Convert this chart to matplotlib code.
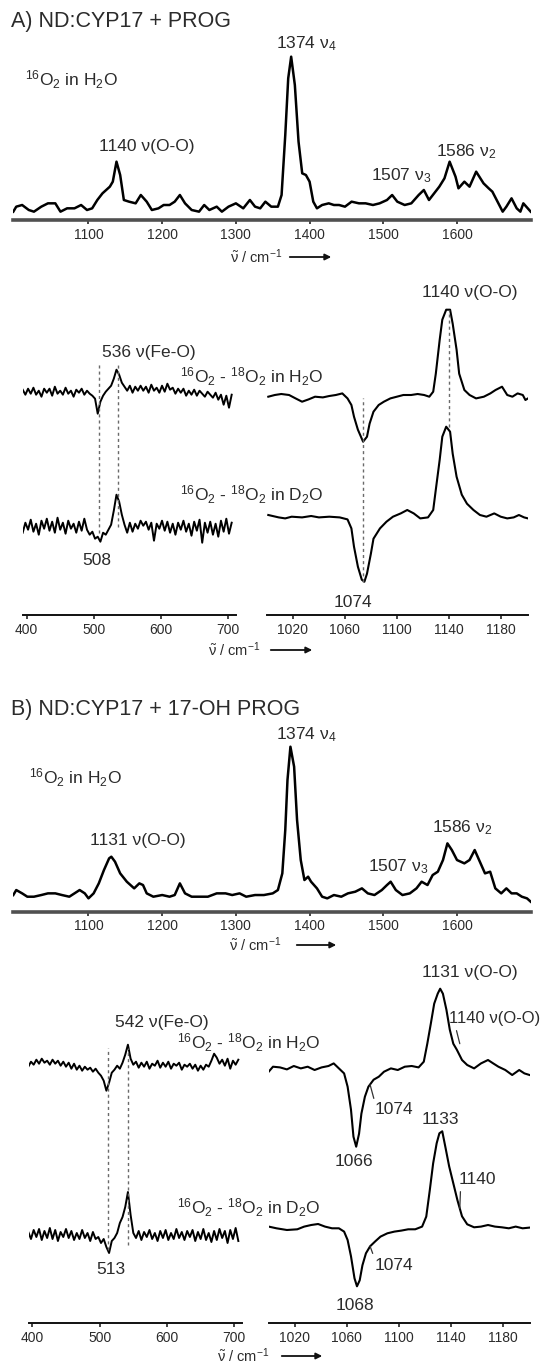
import numpy as np
import matplotlib
matplotlib.use("Agg")
import matplotlib.pyplot as plt
from matplotlib.patches import FancyArrowPatch

# Fonts: Arial-like text, sub/superscripts in the same face
plt.rcParams['font.family'] = ['Liberation Sans', 'DejaVu Sans']
plt.rcParams['mathtext.fontset'] = 'custom'
plt.rcParams['mathtext.rm'] = 'Liberation Sans'
plt.rcParams['mathtext.it'] = 'Liberation Sans:italic'
plt.rcParams['mathtext.default'] = 'regular'

W, H = 544, 1364
TXT = '#2b2b2b'

# ---------------- Section 1: spectra ----------------
# Panel A, 16O2 in H2O, high-frequency window (arbitrary intensity)
wn_a_top = [998, 1002, 1010, 1019, 1026, 1036, 1045, 1055, 1062, 1071,
            1081, 1090, 1098, 1105, 1112, 1119, 1129, 1133, 1138, 1143,
            1148, 1155, 1164, 1171, 1179, 1186, 1195, 1202, 1210, 1217,
            1224, 1231, 1240, 1250, 1257, 1264, 1274, 1281, 1290, 1300,
            1310, 1319, 1326, 1333, 1340, 1348, 1357, 1362, 1367, 1371,
            1375, 1380, 1385, 1390, 1395, 1400, 1405, 1410, 1417, 1426,
            1433, 1440, 1448, 1457, 1467, 1476, 1486, 1495, 1505, 1512,
            1519, 1529, 1538, 1548, 1555, 1562, 1569, 1576, 1583, 1590,
            1598, 1602, 1610, 1617, 1626, 1636, 1643, 1648, 1655, 1662,
            1667, 1674, 1681, 1686, 1690, 1698, 1700]
int_a_top = [5, 8, 9, 6, 5, 8, 10, 10, 5, 7,
             7, 9, 6, 7, 12, 16, 20, 23, 35, 27,
             12, 11, 10, 15, 11, 6, 7, 9, 9, 11,
             15, 10, 6, 5, 9, 6, 8, 5, 8, 10,
             7, 12, 8, 7, 11, 8, 8, 15, 51, 85,
             98, 81, 47, 28, 27, 23, 11, 7, 9, 10,
             9, 9, 8, 11, 10, 10, 9, 10, 12, 15,
             11, 9, 10, 15, 18, 12, 16, 20, 25, 35,
             26, 19, 23, 20, 29, 22, 19, 17, 11, 5,
             8, 13, 7, 5, 10, 6, 5]

# Panel B, 16O2 in H2O, high-frequency window
wn_b_top = [998, 1002, 1010, 1017, 1026, 1036, 1045, 1055, 1064, 1074,
            1081, 1088, 1095, 1100, 1107, 1114, 1121, 1128, 1131, 1136,
            1143, 1152, 1162, 1169, 1174, 1179, 1188, 1200, 1210, 1217,
            1224, 1231, 1240, 1252, 1262, 1274, 1286, 1295, 1305, 1314,
            1326, 1338, 1350, 1357, 1363, 1367, 1370, 1374, 1379, 1383,
            1388, 1393, 1398, 1402, 1410, 1417, 1424, 1433, 1443, 1452,
            1462, 1471, 1479, 1488, 1498, 1505, 1510, 1517, 1526, 1536,
            1545, 1552, 1560, 1567, 1574, 1581, 1587, 1593, 1600, 1610,
            1617, 1624, 1631, 1638, 1645, 1652, 1660, 1667, 1674, 1681,
            1688, 1695, 1700]
int_b_top = [10, 13, 11, 9, 9, 10, 11, 11, 10, 9,
             11, 13, 11, 8, 11, 17, 25, 32, 33, 30,
             23, 18, 14, 17, 16, 11, 9, 10, 9, 10,
             17, 11, 9, 9, 9, 11, 11, 10, 11, 9,
             10, 10, 11, 13, 23, 49, 79, 99, 87, 55,
             31, 19, 21, 18, 14, 9, 8, 10, 9, 11,
             12, 14, 11, 10, 13, 16, 18, 13, 10, 11,
             14, 18, 16, 22, 24, 31, 41, 37, 31, 29,
             31, 37, 30, 23, 24, 14, 11, 14, 11, 11,
             9, 8, 6]

# Difference spectra, low-frequency window (sampled every 4 cm-1)
wn_low = np.arange(394, 707, 4)
diff_a_h2o_low = [2, -3, 3, -2, 4, -3, 1, -5, 3, -1,
                  3, -4, 5, -2, 1, -3, 4, -2, 1, -5,
                  2, -1, 3, -3, 1, -2, -4, -7, -22, -10,
                  -4, 0, 3, 6, 13, 22, 17, 9, 5, 1,
                  6, -1, 5, 1, 6, 1, 5, -1, 7, 1,
                  4, -1, 6, 0, 8, 2, 4, -2, 3, -1,
                  3, -4, 1, -3, 2, -4, 1, -2, -5, 0,
                  -3, -6, -1, -8, -3, -13, -4, -16, -3]
diff_a_d2o_low = [-6, 4, -3, 7, -5, 3, -8, 6, -2, 8,
                  -4, 5, -6, 9, -3, 4, -7, 6, -2, 3,
                  -6, 5, -4, 8, -3, -8, -5, -12, -10, -15,
                  -6, -8, -3, 2, 16, 32, 25, 12, 2, -6,
                  4, -5, 3, -2, 6, 1, 5, -3, 4, -14,
                  3, -2, 6, -4, 5, -6, 3, -8, 4, -3,
                  6, -5, 3, -9, 5, -4, 7, -16, 4, -6,
                  5, -8, 3, -10, 6, -5, 8, -7, 4]
diff_b_h2o_low = [0, 5, 2, 7, 3, 8, 4, 6, 2, 7,
                  3, 6, 1, 5, 0, 4, -2, 3, -3, 1,
                  -4, 0, -3, -1, -5, -2, -6, -9, -14, -24,
                  -16, -6, -3, 1, -2, 4, 12, 22, 8, 2,
                  5, -1, 4, 0, 5, -2, 3, 1, 6, -1,
                  4, 0, 5, -2, 3, 1, 4, -3, 2, 0,
                  3, -2, 2, -4, 1, -3, 2, 0, 6, 13,
                  9, 3, 7, 1, 8, -2, 6, 2, 7]
diff_b_d2o_low = [3, -4, 5, -2, 6, -5, 4, -3, 7, -4,
                  5, -6, 3, -2, 6, -3, 4, -5, 2, -4,
                  5, -3, 2, -6, 3, -4, -2, -8, -4, -12,
                  -18, -6, -3, 2, 12, 18, 28, 43, 20, 2,
                  -3, 4, -5, 3, -2, 5, -4, 2, -6, 4,
                  -3, 5, -5, 2, -4, 6, -3, 3, -5, 4,
                  -2, 5, -6, 3, -4, 6, -5, 2, -7, 4,
                  -5, 6, -3, 4, -8, 5, -4, 7, -6]

# Difference spectra, O-O window, panel A
wn_a_h2o_hi = [1001, 1006, 1011, 1017, 1022, 1027, 1032, 1037, 1043, 1048,
               1053, 1058, 1062, 1065, 1067, 1070, 1074, 1077, 1079, 1082,
               1086, 1090, 1095, 1100, 1105, 1111, 1116, 1121, 1125, 1128,
               1130, 1133, 1135, 1138, 1141, 1143, 1146, 1148, 1152, 1156,
               1161, 1167, 1172, 1176, 1181, 1185, 1189, 1193, 1197, 1199,
               1201]
diff_a_h2o_hi = [0, 1.7, 2.7, 1.7, -1.7, -5, -2.7, 0, -0.7, 0.7,
                 1.7, 3.3, -1.7, -8.3, -20, -33, -45, -40, -27, -15,
                 -8.3, -5, -1.7, 0, 1.7, 1.7, 2.7, 1.7, 0, 5,
                 23, 57, 77, 87, 87, 73, 47, 23, 6.7, 1.7,
                 -1.7, 0, 3.3, 6.7, 10, 1.7, 0, 3.3, 1.7, -3.3,
                 -1.7]
wn_a_d2o_hi = [1001, 1009, 1014, 1019, 1027, 1034, 1040, 1048, 1056, 1062,
               1065, 1067, 1070, 1073, 1075, 1077, 1080, 1082, 1087, 1092,
               1097, 1103, 1108, 1113, 1118, 1124, 1128, 1130, 1133, 1135,
               1138, 1141, 1143, 1146, 1150, 1154, 1159, 1164, 1169, 1175,
               1180, 1185, 1190, 1194, 1198, 1201]
diff_a_d2o_hi = [1.7, -0.7, -1.7, 0, -0.7, 0.7, -0.7, 0, -0.7, -2.7,
                 -11.7, -30, -50, -63, -65, -57, -37, -22, -11.7, -5,
                 0, 3.3, 6.7, 3.3, -1.7, -0.7, 6.7, 27, 57, 80,
                 90, 85, 63, 40, 22, 13, 6.7, 1.7, 0, 3.3,
                 0, -1.7, -0.7, 1.7, -0.7, -1.7]

# Difference spectra, O-O window, panel B
wn_b_h2o_hi = [1000, 1003.3, 1008.7, 1014, 1019.3, 1024.7, 1030, 1035.3, 1040.7, 1046,
               1050, 1054, 1058, 1060.7, 1063.3, 1065.2, 1067.3, 1069.5, 1071.3, 1074,
               1076.7, 1080.7, 1084.7, 1088.7, 1094, 1099.3, 1104.7, 1110, 1115.3, 1119.3,
               1122, 1124.7, 1127.3, 1130, 1131.9, 1134, 1136.7, 1139.3, 1142, 1144.7,
               1148.7, 1152.7, 1158, 1163.3, 1168.7, 1172.7, 1176.7, 1182, 1187.3, 1192.7,
               1196.7, 1200.7]
diff_b_h2o_hi = [-5, 0, -0.7, -2.7, 0.7, -1.7, 0, -3.3, -0.7, 0.7,
                 3.3, -1.7, -6.7, -20, -43, -70, -80, -67, -47, -30,
                 -20, -13, -10, -5, -1.7, -3.3, 0, 0.7, -0.7, 5,
                 23, 43, 63, 73, 78, 73, 57, 37, 23, 17,
                 6.7, 1.7, -1.7, 3.3, 6.7, 3.3, 0, -3.3, -8.3, -3.3,
                 -6.7, -8.3]
wn_b_d2o_hi = [1000, 1006, 1014, 1022, 1027.3, 1032.7, 1038, 1043.3, 1048.7, 1054,
               1058, 1060.7, 1063.3, 1066, 1067.9, 1070, 1072.1, 1074.8, 1078, 1082,
               1086, 1091.3, 1096.7, 1102, 1107.3, 1112.7, 1118, 1121.2, 1123.9, 1126.5,
               1129.2, 1131.3, 1133.5, 1136.1, 1138.8, 1142, 1145.2, 1148.7, 1152.7, 1158,
               1163.3, 1168.7, 1174, 1179.3, 1184.7, 1190, 1195.3, 1200.7]
diff_b_d2o_hi = [1.7, 0, -1.7, -1, 1.7, 3.3, 4.3, 1.7, 0, 0,
                 -3.3, -11.7, -28, -50, -58, -52, -37, -25, -18, -13,
                 -8.3, -5, -3.3, -2.3, -1, -1, 1.7, 11.7, 38, 65,
                 85, 95, 97, 80, 62, 45, 28, 12, 4, 1,
                 1.7, 3.3, 1.7, 1, 0, 1.7, 0, 0.7]

TICKS_TOP = [1100, 1200, 1300, 1400, 1500, 1600]
TICKS_LOW = [400, 500, 600, 700]
TICKS_OO = [1020, 1060, 1100, 1140, 1180]

# ---------------- Section 2: layout helpers (figure pixels, y from top) ----------------
fig = plt.figure(figsize=(W / 100, H / 100), dpi=100)


def px_axes(x0, x1, y_axis, height, xlim, ytop, ticks, heavy=False):
    ax = fig.add_axes([x0 / W, 1 - y_axis / H, (x1 - x0) / W, height / H])
    ax.set_xlim(*xlim)
    ax.set_ylim(0, ytop)
    for s in ('top', 'left', 'right'):
        ax.spines[s].set_visible(False)
    ax.spines['bottom'].set_linewidth(2.6 if heavy else 1.4)
    ax.spines['bottom'].set_color('#505050' if heavy else '#111111')
    ax.set_yticks([])
    ax.set_xticks(ticks)
    ax.tick_params(axis='x', direction='out', length=3, width=1.1, pad=2.5,
                   labelsize=10, colors='#111111', labelcolor=TXT)
    ax.patch.set_visible(False)
    return ax


def ftext(x, y, s, size=12.5, **kw):
    fig.text(x / W, 1 - y / H, s, fontsize=size, color=TXT,
             ha=kw.pop('ha', 'left'), va=kw.pop('va', 'center'), **kw)


def xlabel_arrow(x_text, x0, x1, y):
    ftext(x_text, y, r'$\tilde{\nu}$ / cm$^{-1}$', size=10.5)
    fig.add_artist(FancyArrowPatch((x0 / W, 1 - y / H), (x1 / W, 1 - y / H),
                                   transform=fig.transFigure, arrowstyle='-|>',
                                   mutation_scale=9, lw=1.3, color='#111111'))


def leader(ax, text, wn, val, tx, ty, size=12.5):
    ax.annotate(text, xy=(wn, val), xycoords='data',
                xytext=(tx, H - ty), textcoords='figure pixels',
                fontsize=size, color=TXT, ha='left', va='center',
                arrowprops=dict(arrowstyle='-', lw=0.9, color='#333333',
                                shrinkA=1, shrinkB=0, relpos=(0.05, 0.5)))


DASH = dict(colors='#6a6a6a', linestyles=(0, (2.2, 2.2)), linewidths=1.0)
SCALE_TOP = 5 / 3  # pixels per intensity unit in the survey spectra
LW_NOISY = 1.4
LW_DIFF = 1.5

# ---------------- Section 3: panel A ----------------
ftext(11, 22, 'A) ND:CYP17 + PROG', size=15.5)

ax = px_axes(13.3, 530.7, 220, 108 * SCALE_TOP, (998, 1700), 108, TICKS_TOP, heavy=True)
ax.plot(wn_a_top, int_a_top, color='black', lw=1.8)
ftext(276, 44, '1374 ν$_4$')
ftext(25, 80, r'$^{16}$O$_2$ in H$_2$O')
ftext(99, 147, '1140 ν(O-O)')
ftext(371, 176, '1507 ν$_3$')
ftext(436, 152, '1586 ν$_2$')
xlabel_arrow(230, 287, 334, 257)

# low-frequency differences, panel A
ax = px_axes(22.7, 235.7, 615, 335, (394, 712), 335, TICKS_LOW)
ax.plot(wn_low, np.array(diff_a_h2o_low) + (615 - 391.7), color='black', lw=LW_NOISY)
ax.plot(wn_low, np.array(diff_a_d2o_low) + (615 - 526.7), color='black', lw=LW_NOISY)
ax.vlines(508, 615 - 533, 615 - 361.7, **DASH)
ax.vlines(536, 615 - 526.7, 615 - 361.7, **DASH)

ax = px_axes(267, 528, 615, 335, (1000, 1201), 335, TICKS_OO)
ax.plot(wn_a_h2o_hi, np.array(diff_a_h2o_hi) + (615 - 396.7), color='black', lw=LW_DIFF)
ax.plot(wn_a_d2o_hi, np.array(diff_a_d2o_hi) + (615 - 516.7), color='black', lw=LW_DIFF)
ax.vlines(1074, 615 - 581.7, 615 - 398, **DASH)
ax.vlines(1140, 615 - 426.7, 615 - 310, **DASH)

ftext(102, 353, '536 ν(Fe-O)')
ftext(180, 377, r'$^{16}$O$_2$ - $^{18}$O$_2$ in H$_2$O')
ftext(180, 495, r'$^{16}$O$_2$ - $^{18}$O$_2$ in D$_2$O')
ftext(82, 560, '508')
ftext(334, 602, '1074')
ftext(422, 293, '1140 ν(O-O)')
xlabel_arrow(208, 268, 315, 650)

# ---------------- Section 4: panel B ----------------
ftext(11, 710, 'B) ND:CYP17 + 17-OH PROG', size=15.5)

ax = px_axes(13.3, 530.7, 911.7, 108 * SCALE_TOP, (998, 1700), 108, TICKS_TOP, heavy=True)
ax.plot(wn_b_top, int_b_top, color='black', lw=1.8)
ftext(276, 735, '1374 ν$_4$')
ftext(29, 778, r'$^{16}$O$_2$ in H$_2$O')
ftext(90, 840, '1131 ν(O-O)')
ftext(368, 867, '1507 ν$_3$')
ftext(432, 828, '1586 ν$_2$')
xlabel_arrow(229, 294, 339, 945)

ax = px_axes(29.3, 241.7, 1323, 363, (395.5, 711), 363, TICKS_LOW)
ax.plot(wn_low, np.array(diff_b_h2o_low) + (1323 - 1066.7), color='black', lw=LW_NOISY)
ax.plot(wn_low, np.array(diff_b_d2o_low) + (1323 - 1235), color='black', lw=LW_NOISY)
ax.vlines(513, 1323 - 1250, 1323 - 1048.3, **DASH)
ax.vlines(542, 1323 - 1245, 1323 - 1048.3, **DASH)

ax = px_axes(268.7, 530, 1323, 363, (1000, 1201), 363, TICKS_OO)
off_h, off_d = 1323 - 1066.7, 1323 - 1228.3
ax.plot(wn_b_h2o_hi, np.array(diff_b_h2o_hi) + off_h, color='black', lw=LW_DIFF)
ax.plot(wn_b_d2o_hi, np.array(diff_b_d2o_hi) + off_d, color='black', lw=LW_DIFF)
leader(ax, '1140 ν(O-O)', 1147, 23 + off_h, 449, 1019, size=12)
leader(ax, '1074', 1078, -18 + off_h, 375, 1110)
leader(ax, '1140', 1147, 20 + off_d, 459, 1180)
leader(ax, '1074', 1078, -18 + off_d, 375, 1265)

ftext(115, 1022, '542 ν(Fe-O)')
ftext(177, 1043, r'$^{16}$O$_2$ - $^{18}$O$_2$ in H$_2$O')
ftext(177, 1208, r'$^{16}$O$_2$ - $^{18}$O$_2$ in D$_2$O')
ftext(96, 1270, '513')
ftext(335, 1162, '1066')
ftext(422, 973, '1131 ν(O-O)')
ftext(422, 1120, '1133')
ftext(336, 1305, '1068')
xlabel_arrow(217, 279, 325, 1356)

# ---------------- Section 5: export ----------------
fig.savefig('out.png', dpi=100)
